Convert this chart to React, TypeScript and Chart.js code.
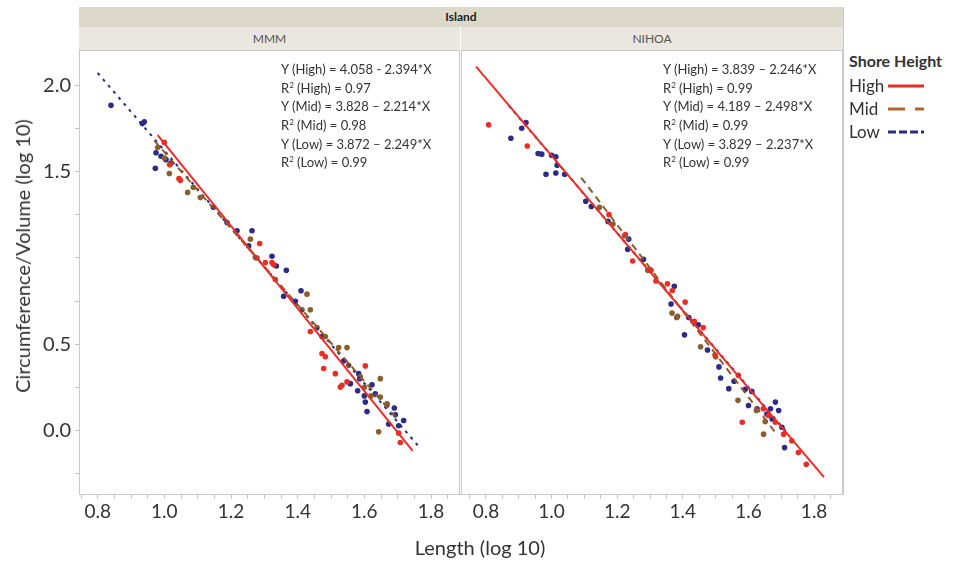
import React, { useEffect, useRef } from 'react';
import { Chart, registerables } from 'chart.js';
Chart.register(...registerables);

// ---------- data ----------
const SERIES = ['High', 'Mid', 'Low'];
const COLORS = ['#ec2d25', '#8a5d2c', '#2c2b88'];
const Y_TICKS = [-0.25, 0, 0.25, 0.5, 0.75, 1.0, 1.25, 1.5, 1.75, 2.0];
const Y_LABELED = [0, 0.5, 1.5, 2.0];
const X_LABELED = [0.8, 1.0, 1.2, 1.4, 1.6, 1.8];

// MMM
const MMM_HIGH_X = [1.0, 1.016, 1.044, 1.048, 1.286, 1.303, 1.323, 1.328, 1.333, 1.438, 1.473, 1.483, 1.478, 1.513, 1.528, 1.533, 1.548, 1.603, 1.703, 1.708];
const MMM_HIGH_Y = [1.67, 1.54, 1.46, 1.45, 1.084, 0.973, 0.973, 0.96, 0.875, 0.573, 0.446, 0.427, 0.359, 0.329, 0.251, 0.262, 0.281, 0.374, -0.016, -0.07];
const MMM_MID_X = [0.98, 1.015, 1.0, 1.07, 1.087, 1.108, 1.258, 1.273, 1.278, 1.428, 1.413, 1.438, 1.458, 1.483, 1.523, 1.548, 1.553, 1.588, 1.648, 1.648, 1.643, 1.668, 1.6, 1.62];
const MMM_MID_Y = [1.64, 1.49, 1.58, 1.38, 1.41, 1.35, 1.109, 1.002, 1.0, 0.79, 0.70, 0.70, 0.596, 0.544, 0.48, 0.48, 0.378, 0.31, 0.30, 0.193, -0.008, 0.154, 0.25, 0.2];
const MMM_LOW_X = [0.84, 0.934, 0.94, 0.975, 0.973, 0.99, 1.005, 1.02, 1.147, 1.188, 1.218, 1.263, 1.253, 1.323, 1.336, 1.366, 1.41, 1.358, 1.393, 1.473, 1.538, 1.583, 1.558, 1.586, 1.623, 1.603, 1.608, 1.633, 1.668, 1.693, 1.718, 1.703, 1.673, 1.6, 1.58, 1.69];
const MMM_LOW_Y = [1.885, 1.78, 1.79, 1.61, 1.52, 1.59, 1.57, 1.55, 1.294, 1.206, 1.158, 1.158, 1.07, 1.01, 0.953, 0.928, 0.81, 0.778, 0.749, 0.544, 0.402, 0.329, 0.271, 0.30, 0.265, 0.164, 0.109, 0.212, 0.148, 0.09, 0.057, 0.027, 0.037, 0.2, 0.23, 0.13];
const MMM_INTERCEPT = [4.058, 3.828, 3.872];
const MMM_SLOPE = [-2.394, -2.214, -2.249];
const MMM_R2 = ['0.97', '0.98', '0.99'];
const MMM_FIT_FROM = [0.98, 0.97, 0.8];
const MMM_FIT_TO = [1.745, 1.7, 1.76];

// NIHOA
const NIH_HIGH_X = [0.808, 0.926, 1.175, 1.225, 1.247, 1.303, 1.318, 1.353, 1.368, 1.407, 1.435, 1.462, 1.498, 1.569, 1.581, 1.645, 1.661, 1.682, 1.707, 1.732, 1.752, 1.776];
const NIH_HIGH_Y = [1.772, 1.649, 1.251, 1.135, 0.982, 0.928, 0.866, 0.85, 0.811, 0.744, 0.632, 0.596, 0.437, 0.32, 0.047, 0.125, 0.086, 0.047, -0.022, -0.06, -0.129, -0.197];
const NIH_MID_X = [1.146, 1.187, 1.222, 1.293, 1.298, 1.367, 1.381, 1.384, 1.454, 1.5, 1.568, 1.624, 1.646, 1.651];
const NIH_MID_Y = [1.294, 1.197, 1.129, 0.928, 0.934, 0.68, 0.655, 0.661, 0.485, 0.427, 0.174, 0.115, -0.022, 0.051];
const NIH_LOW_X = [0.876, 0.909, 0.922, 0.959, 0.97, 1.0, 1.013, 1.017, 0.983, 1.04, 1.013, 1.104, 1.121, 1.172, 1.232, 1.235, 1.28, 1.374, 1.364, 1.405, 1.418, 1.447, 1.475, 1.51, 1.515, 1.556, 1.54, 1.59, 1.61, 1.6, 1.626, 1.656, 1.682, 1.692, 1.672, 1.702, 1.71, 1.667];
const NIH_LOW_Y = [1.694, 1.752, 1.785, 1.606, 1.602, 1.596, 1.587, 1.538, 1.485, 1.485, 1.493, 1.329, 1.298, 1.212, 1.05, 1.109, 0.992, 0.836, 0.733, 0.554, 0.655, 0.612, 0.466, 0.368, 0.304, 0.285, 0.242, 0.238, 0.226, 0.144, 0.125, 0.095, 0.164, 0.115, 0.066, 0.018, -0.1, 0.125];
const NIH_INTERCEPT = [3.839, 4.189, 3.829];
const NIH_SLOPE = [-2.246, -2.498, -2.237];
const NIH_R2 = ['0.99', '0.99', '0.99'];
const NIH_FIT_FROM = [0.77, 1.09, 0.87];
const NIH_FIT_TO = [1.83, 1.68, 1.72];

const FONT = 'Lato, "Open Sans", sans-serif';
const LINE_DASH = [[], [7, 5], [3, 5]];

const zip = (xs: number[], ys: number[]) => xs.map((x, i) => ({ x, y: ys[i] }));

const framePlugin = {
  id: 'frame',
  afterDraw(chart: any) {
    const { ctx, chartArea: a } = chart;
    ctx.save();
    ctx.strokeStyle = '#c9c9c9';
    ctx.lineWidth = 1;
    ctx.strokeRect(a.left + 0.5, a.top + 0.5, a.right - a.left - 1, a.bottom - a.top);
    ctx.restore();
  },
};

function makeConfig(p: any, showY: boolean) {
  const datasets: any[] = [];
  SERIES.forEach((s, i) => {
    const x0 = p.from[i], x1 = p.to[i];
    datasets.push({
      type: 'line', label: s + ' fit', order: 0,
      data: [{ x: x0, y: p.b[i] + p.m[i] * x0 }, { x: x1, y: p.b[i] + p.m[i] * x1 }],
      borderColor: COLORS[i], borderWidth: 2, borderDash: LINE_DASH[i],
      pointRadius: 0, fill: false,
    });
  });
  SERIES.forEach((s, i) => {
    datasets.push({
      type: 'scatter', label: s, order: 1,
      data: zip(p.xs[i], p.ys[i]),
      backgroundColor: COLORS[i], borderWidth: 0, pointRadius: 2.8,
    });
  });
  return {
    type: 'scatter',
    data: { datasets },
    plugins: [framePlugin],
    options: {
      animation: false, responsive: false, maintainAspectRatio: false,
      layout: { autoPadding: false, padding: { top: 50, right: 1, bottom: 0, left: 0 } },
      plugins: { legend: { display: false }, tooltip: { enabled: false } },
      scales: {
        x: {
          type: 'linear', min: p.xmin, max: p.xmax,
          afterBuildTicks: (sc: any) => {
            const t: any[] = [];
            for (let k = 15; k <= 37; k++) t.push({ value: k * 0.05 });
            sc.ticks = t;
          },
          afterFit: (sc: any) => { sc.height = 73; sc.paddingLeft = 0; sc.paddingRight = 0; },
          ticks: {
            autoSkip: false, maxRotation: 0, padding: 1, color: '#333',
            font: { family: FONT, size: 19 },
            callback: (v: number) => X_LABELED.some(l => Math.abs(l - v) < 1e-6) ? v.toFixed(1) : '',
          },
          grid: { drawOnChartArea: false, drawTicks: true, tickLength: 5, color: '#c4c4c4' },
          border: { display: true, color: '#c9c9c9' },
        },
        y: {
          type: 'linear', min: -0.369, max: 2.206, display: showY,
          afterBuildTicks: (sc: any) => { sc.ticks = Y_TICKS.map(v => ({ value: v })); },
          afterFit: (sc: any) => { sc.width = showY ? 79 : 0; sc.paddingTop = 0; sc.paddingBottom = 0; },
          ticks: {
            autoSkip: false, padding: 4, color: '#333',
            font: { family: FONT, size: 20 },
            callback: (v: number) => Y_LABELED.some(l => Math.abs(l - v) < 1e-6) ? v.toFixed(1) : '',
          },
          grid: { drawOnChartArea: false, drawTicks: true, tickLength: 4, color: '#c4c4c4' },
          border: { display: true, color: '#c9c9c9' },
        },
      },
    },
  };
}

function Panel({ p, showY, left, width }: any) {
  const ref = useRef<HTMLCanvasElement>(null);
  useEffect(() => {
    const c = new Chart(ref.current as any, makeConfig(p, showY) as any);
    return () => c.destroy();
  }, []);
  return (
    <canvas ref={ref} width={width} height={567}
      style={{ position: 'absolute', left, top: 0, width, height: 567 }} />
  );
}

function Equations({ left, b, m, r2 }: any) {
  const fmt = (v: number) => v.toFixed(3);
  const lines: any[] = [];
  SERIES.forEach((s, i) => {
    const sep = i === 0 && left < 400 ? ' - ' : ' – ';
    lines.push(<div key={'e' + i} style={{ height: 18.7 }}>Y ({s}) = {fmt(b[i])}{sep}{fmt(-m[i])}*X</div>);
    lines.push(
      <div key={'r' + i} style={{ height: 18.7 }}>
        R<span style={{ fontSize: 8, position: 'relative', top: -5, lineHeight: 0 }}>2</span> ({s}) = {r2[i]}
      </div>
    );
  });
  return (
    <div style={{ position: 'absolute', left, top: 60, fontSize: 13, lineHeight: '18.7px', color: '#333', whiteSpace: 'nowrap' }}>
      {lines}
    </div>
  );
}

export default function App() {
  const mmm = {
    xs: [MMM_HIGH_X, MMM_MID_X, MMM_LOW_X], ys: [MMM_HIGH_Y, MMM_MID_Y, MMM_LOW_Y],
    b: MMM_INTERCEPT, m: MMM_SLOPE, from: MMM_FIT_FROM, to: MMM_FIT_TO, xmin: 0.744, xmax: 1.887,
  };
  const nih = {
    xs: [NIH_HIGH_X, NIH_MID_X, NIH_LOW_X], ys: [NIH_HIGH_Y, NIH_MID_Y, NIH_LOW_Y],
    b: NIH_INTERCEPT, m: NIH_SLOPE, from: NIH_FIT_FROM, to: NIH_FIT_TO, xmin: 0.724, xmax: 1.888,
  };
  const legendRows = [
    { label: 'High', y: 86 },
    { label: 'Mid', y: 109 },
    { label: 'Low', y: 132 },
  ];
  return (
    <div style={{ position: 'fixed', left: 0, top: 0, width: 954, height: 567, background: '#fff', fontFamily: FONT, overflow: 'hidden' }}>
      <Panel p={mmm} showY={true} left={0} width={461} />
      <Panel p={nih} showY={false} left={461} width={383} />
      {/* header bands */}
      <div style={{ position: 'absolute', left: 79, top: 7, width: 764, height: 20, background: '#dcd9ca', textAlign: 'center', fontSize: 12, fontWeight: 700, lineHeight: '20px', color: '#222' }}>Island</div>
      <div style={{ position: 'absolute', left: 79, top: 27, width: 381, height: 23, background: '#e9e7df', textAlign: 'center', fontSize: 12, lineHeight: '23px', color: '#555', borderRight: '1px solid #fff' }}>MMM</div>
      <div style={{ position: 'absolute', left: 461, top: 27, width: 382, height: 23, background: '#e9e7df', textAlign: 'center', fontSize: 12, lineHeight: '23px', color: '#555' }}>NIHOA</div>
      <div style={{ position: 'absolute', left: 843, top: 7, width: 1, height: 487, background: '#c9c9c9' }} />
      <Equations left={281} b={MMM_INTERCEPT} m={MMM_SLOPE} r2={MMM_R2} />
      <Equations left={663} b={NIH_INTERCEPT} m={NIH_SLOPE} r2={NIH_R2} />
      {/* axis titles */}
      <div style={{ position: 'absolute', left: 22, top: 256, transform: 'translate(-50%, -50%) rotate(-90deg)', fontSize: 20, color: '#333', whiteSpace: 'nowrap' }}>Circumference/Volume (log 10)</div>
      <div style={{ position: 'absolute', left: 480, top: 547, transform: 'translate(-50%, -50%)', fontSize: 20, color: '#333', whiteSpace: 'nowrap' }}>Length (log 10)</div>
      {/* legend */}
      <div style={{ position: 'absolute', left: 849, top: 51, fontSize: 16, fontWeight: 700, color: '#333', whiteSpace: 'nowrap' }}>Shore Height</div>
      {legendRows.map((r, i) => (
        <div key={r.label}>
          <div style={{ position: 'absolute', left: 849, top: r.y - 11, fontSize: 17, color: '#333', lineHeight: '22px' }}>{r.label}</div>
          <svg style={{ position: 'absolute', left: 886, top: r.y - 3 }} width={40} height={6}>
            <line x1={2} y1={3} x2={38} y2={3} stroke={i === 1 ? '#b0672b' : COLORS[i]} strokeWidth={3}
              strokeDasharray={i === 0 ? undefined : i === 1 ? '17 10' : '8 3'} />
          </svg>
        </div>
      ))}
    </div>
  );
}
